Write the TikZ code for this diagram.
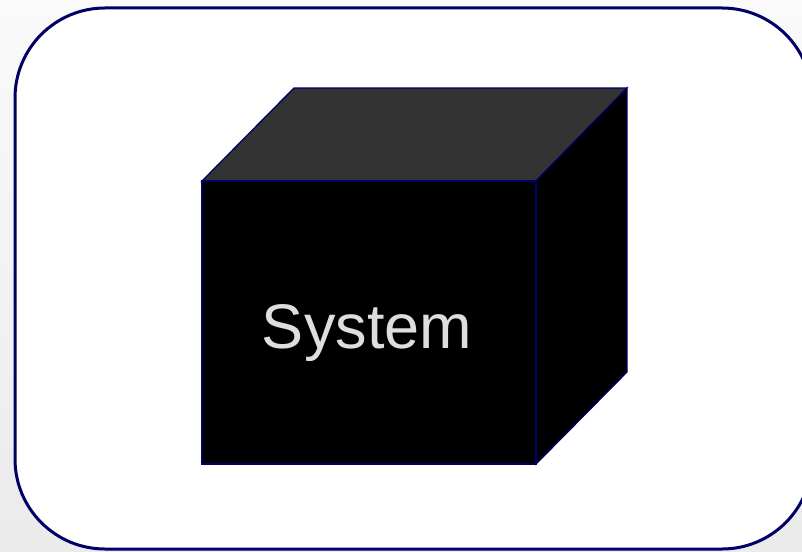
\documentclass[tikz,border=0pt]{standalone}
\usepackage{fontspec}
\setmainfont{Liberation Sans}
\definecolor{edgenavy}{HTML}{000066}
\definecolor{topgray}{HTML}{333333}
\definecolor{labelgray}{HTML}{DEDEDE}
\tikzset{
  frame/.style={draw=edgenavy, line width=3pt, fill=white, rounded corners=90pt},
  face/.style={draw=edgenavy, line width=1.3pt, line join=miter},
}
\begin{document}
\begin{tikzpicture}[x=1pt, y=-1pt]
  \useasboundingbox (0,0) rectangle (802,551);
  \shade[top color=black!2, bottom color=black!8] (0,0) rectangle (802,551);

  % rounded panel, cut at the right edge
  \begin{scope}
    \clip (0,0) rectangle (802,551);
    \draw[frame] (15,8) rectangle (812,549);
  \end{scope}

  % cube corners
  \coordinate (ftl) at (202,181);
  \coordinate (ftr) at (536,181);
  \coordinate (fbr) at (536,464);
  \coordinate (fbl) at (202,464);
  \coordinate (btl) at (294,88);
  \coordinate (btr) at (627,88);
  \coordinate (bbr) at (627,372);

  \draw[face, fill=topgray] (ftl) -- (btl) -- (btr) -- (ftr) -- cycle;
  \draw[face, fill=black] (ftr) -- (btr) -- (bbr) -- (fbr) -- cycle;
  \draw[face, fill=black] (ftl) -- (ftr) -- (fbr) -- (fbl) -- cycle;

  \node[text=labelgray, font=\fontsize{63}{70}\selectfont, inner sep=0pt]
    (label) at (367,333) {System};
\end{tikzpicture}
\end{document}
